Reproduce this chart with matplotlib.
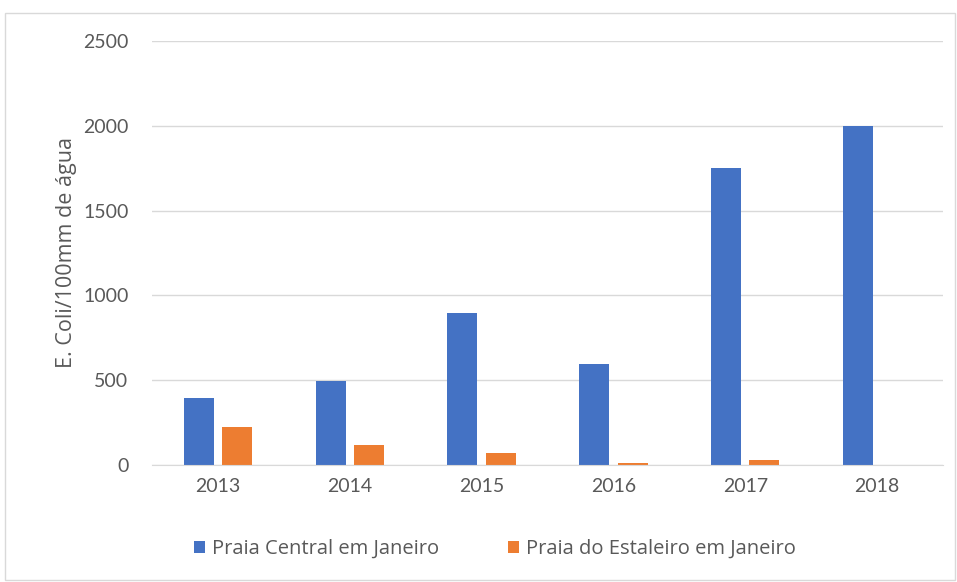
import matplotlib
matplotlib.use("Agg")
import matplotlib.pyplot as plt
import numpy as np
from matplotlib.patches import Rectangle

years = ["2013", "2014", "2015", "2016", "2017", "2018"]
central = [393, 497, 896, 594, 1751, 2000]
estaleiro = [226, 120, 72, 14, 28, 0]
yticks = [0, 500, 1000, 1500, 2000, 2500]

plt.rcParams['font.family'] = ['Lato', 'DejaVu Sans']
grey = "#595959"

fig = plt.figure(figsize=(9.57, 5.82), dpi=100)
fig.patches.append(Rectangle((5/957, 1-580/582), 950/957, (580-13)/582, transform=fig.transFigure,
                             fill=False, edgecolor="#d9d9d9", linewidth=1))
ax = fig.add_axes([152/957, 1-465/582, (943-152)/957, (465-41)/582])

x = np.arange(len(years))
w = 0.228
gap = 0.062
ax.bar(x - (w+gap)/2, central, w, color="#4472C4", label="Praia Central em Janeiro")
ax.bar(x + (w+gap)/2, estaleiro, w, color="#ED7D31", label="Praia do Estaleiro em Janeiro")

ax.set_xlim(-0.5, len(years)-0.5)
ax.set_ylim(0, 2500)
ax.set_yticks(yticks)
ax.set_yticklabels([str(v) for v in yticks])
ax.set_xticks(x)
ax.set_xticklabels(years)
ax.tick_params(axis='both', length=0, colors=grey, labelsize=14)
ax.tick_params(axis='y', pad=17)
ax.tick_params(axis='x', pad=9)
ax.grid(axis='y', color="#d9d9d9", linewidth=1)
ax.set_axisbelow(True)
for s in ["top", "right", "left"]:
    ax.spines[s].set_visible(False)
ax.spines["bottom"].set_color("#d9d9d9")
ax.set_ylabel("E. Coli/100mm de água", color=grey, fontsize=15.5, labelpad=4,
              family=['Open Sans', 'DejaVu Sans'])

leg = fig.legend(loc="center", bbox_to_anchor=(495/957, 1-549/582), ncol=2, frameon=False,
                 prop={'family': ['Open Sans', 'DejaVu Sans'], 'size': 14.5},
                 handlelength=0.55, handleheight=0.55, columnspacing=3.4, handletextpad=0.35)
for t in leg.get_texts():
    t.set_color(grey)

fig.savefig("out.png", dpi=100)
